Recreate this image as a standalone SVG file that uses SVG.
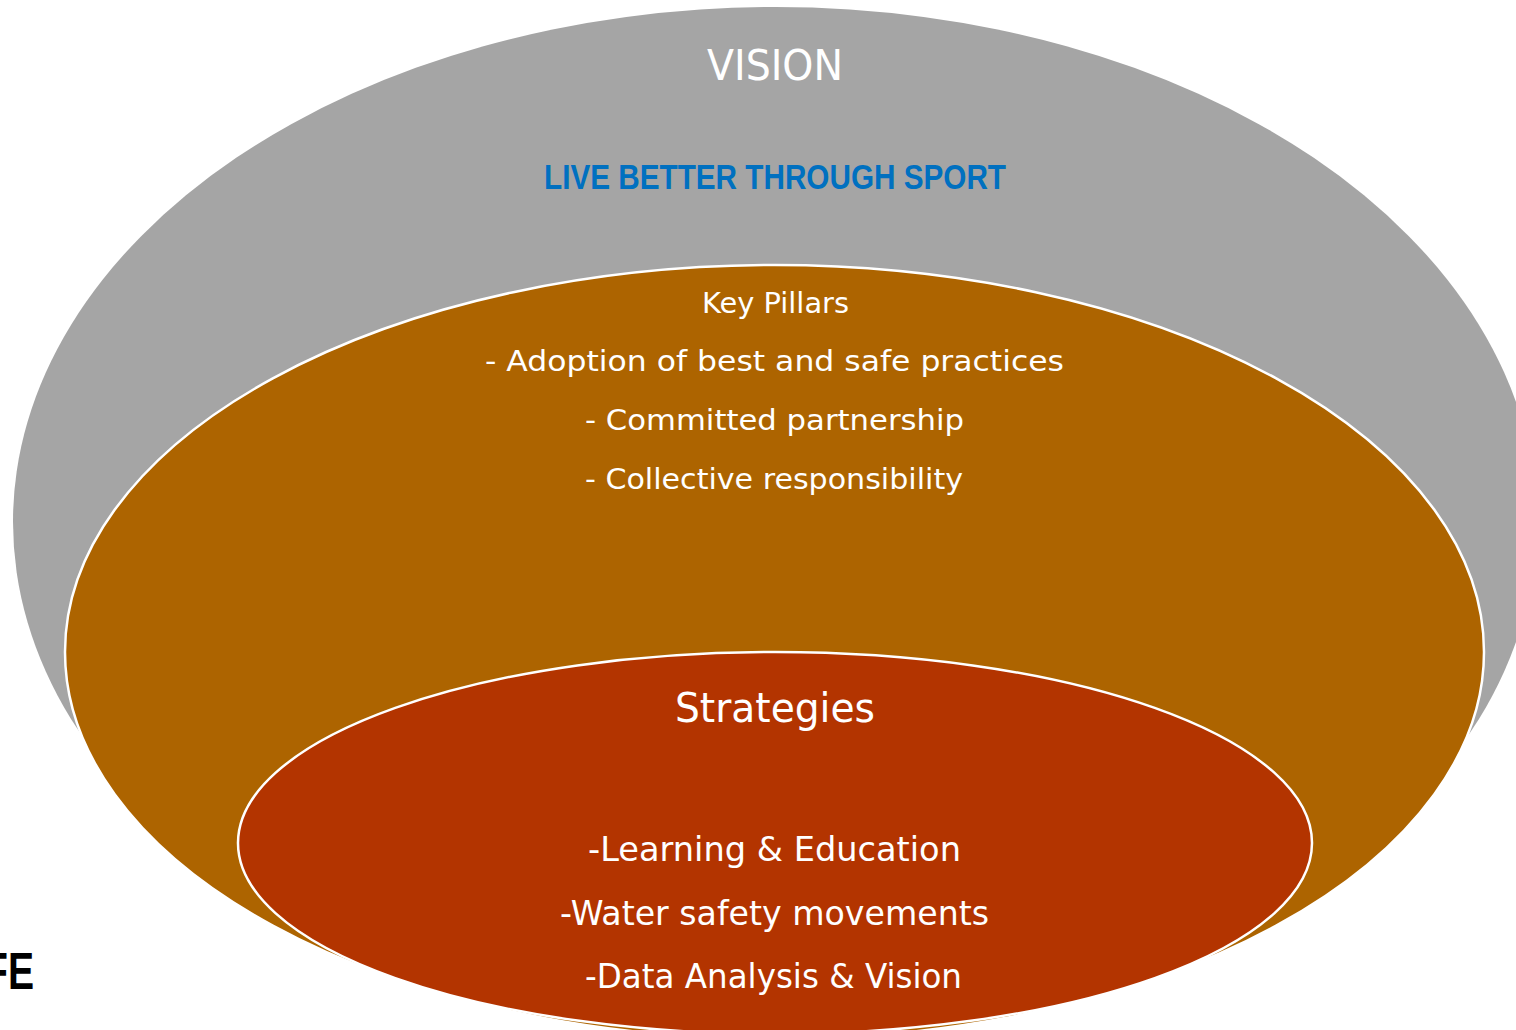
<svg xmlns="http://www.w3.org/2000/svg" width="1516" height="1030" viewBox="0 0 1516 1030">
  <style>
    .lbl { font-family: "DejaVu Sans", "Liberation Sans", sans-serif; fill: #ffffff; text-anchor: middle; }
    .ring { stroke: #ffffff; stroke-width: 2.5; }
  </style>
  <rect width="1516" height="1030" fill="#ffffff"/>

  <!-- outer layer: vision -->
  <g id="vision">
    <ellipse cx="775" cy="522" rx="762" ry="515" fill="#A5A5A5"/>
    <text class="lbl" x="775" y="80" font-size="42" textLength="136" lengthAdjust="spacingAndGlyphs">VISION</text>
    <text x="775" y="189" font-family="'Liberation Sans', Arial, sans-serif" font-weight="bold" font-size="35" fill="#0070C0" text-anchor="middle" textLength="462" lengthAdjust="spacingAndGlyphs">LIVE BETTER THROUGH SPORT</text>
  </g>

  <!-- middle layer: key pillars -->
  <g id="key-pillars">
    <ellipse class="ring" cx="774.5" cy="652" rx="709.5" ry="387" fill="#AD6400"/>
    <text class="lbl" x="775.5" y="313" font-size="29" textLength="147" lengthAdjust="spacingAndGlyphs">Key Pillars</text>
    <text class="lbl" x="774.5" y="371" font-size="29" textLength="579" lengthAdjust="spacingAndGlyphs">- Adoption of best and safe practices</text>
    <text class="lbl" x="774.5" y="430" font-size="29" textLength="379" lengthAdjust="spacingAndGlyphs">- Committed partnership</text>
    <text class="lbl" x="774" y="489" font-size="29" textLength="378" lengthAdjust="spacingAndGlyphs">- Collective responsibility</text>
  </g>

  <!-- inner layer: strategies -->
  <g id="strategies">
    <ellipse class="ring" cx="775" cy="843" rx="537" ry="191" fill="#B33400"/>
    <text class="lbl" x="775" y="722" font-size="40" textLength="200" lengthAdjust="spacingAndGlyphs">Strategies</text>
    <text class="lbl" x="774.5" y="861" font-size="33" textLength="373" lengthAdjust="spacingAndGlyphs">-Learning &amp; Education</text>
    <text class="lbl" x="774.5" y="925" font-size="33" textLength="429" lengthAdjust="spacingAndGlyphs">-Water safety movements</text>
    <text class="lbl" x="773.5" y="988" font-size="33" textLength="377" lengthAdjust="spacingAndGlyphs">-Data Analysis &amp; Vision</text>
  </g>

  <g id="connectors"/>

  <!-- heading running off the left edge -->
  <g id="side-heading">
    <text x="-16" y="989" font-family="'Liberation Sans', Arial, sans-serif" font-weight="bold" font-size="52" fill="#000000" textLength="50" lengthAdjust="spacingAndGlyphs">FE</text>
  </g>
</svg>
